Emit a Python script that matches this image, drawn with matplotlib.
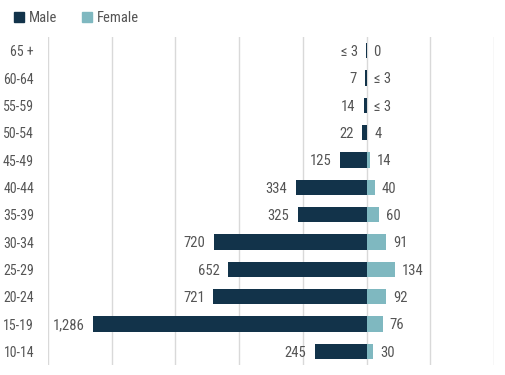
import matplotlib.pyplot as plt
from matplotlib.lines import Line2D

plt.rcParams['font.family'] = ['Roboto Condensed', 'Liberation Sans Narrow', 'Roboto', 'DejaVu Sans']

# Data (bottom to top)
age_groups = ['10-14', '15-19', '20-24', '25-29', '30-34', '35-39',
              '40-44', '45-49', '50-54', '55-59', '60-64', '65 +']
male = [245, 1286, 721, 652, 720, 325, 334, 125, 22, 14, 7, 2]
female = [30, 76, 92, 134, 91, 60, 40, 14, 4, 2, 2, 0]
male_labels = ['245', '1,286', '721', '652', '720', '325', '334', '125', '22', '14', '7', '≤ 3']
female_labels = ['30', '76', '92', '134', '91', '60', '40', '14', '4', '≤ 3', '≤ 3', '0']

male_color = '#12334a'
female_color = '#7fb8c0'
text_color = '#555555'

fig = plt.figure(figsize=(5.05, 3.75), dpi=100)
ax = fig.add_axes([48 / 505, 10 / 375, 446 / 505, 328 / 375])

y = list(range(len(age_groups)))
ax.barh(y, [-m for m in male], height=0.56, color=male_color, zorder=2)
ax.barh(y, female, height=0.56, color=female_color, zorder=2)

for i in y:
    ax.annotate(male_labels[i], (-male[i], i), xytext=(-6, -1), textcoords='offset points',
                ha='right', va='center', fontsize=10.5, color=text_color)
    ax.annotate(female_labels[i], (female[i], i), xytext=(5, -1), textcoords='offset points',
                ha='left', va='center', fontsize=10.5, color=text_color)

ax.set_xlim(-1500, 600)
ax.set_ylim(-0.5, len(age_groups) - 0.5)
ax.set_xticks(range(-1500, 601, 300))
ax.set_xticklabels([])
ax.set_yticks(y)
ax.set_yticklabels(age_groups, fontsize=10, color=text_color)
ax.tick_params(length=0, pad=10)
ax.grid(axis='x', color='#d9d9d9', linewidth=1, zorder=0)
for s in ax.spines.values():
    s.set_visible(False)

handles = [Line2D([], [], marker='s', linestyle='', color=male_color, markersize=7),
           Line2D([], [], marker='s', linestyle='', color=female_color, markersize=7)]
fig.legend(handles, ['Male', 'Female'], loc='upper left', bbox_to_anchor=(0.0, 1.005),
           ncol=2, frameon=False, fontsize=10.5, handlelength=0.8, handletextpad=0.3,
           columnspacing=1.6, labelcolor=text_color)

fig.savefig('out.png', dpi=100)
